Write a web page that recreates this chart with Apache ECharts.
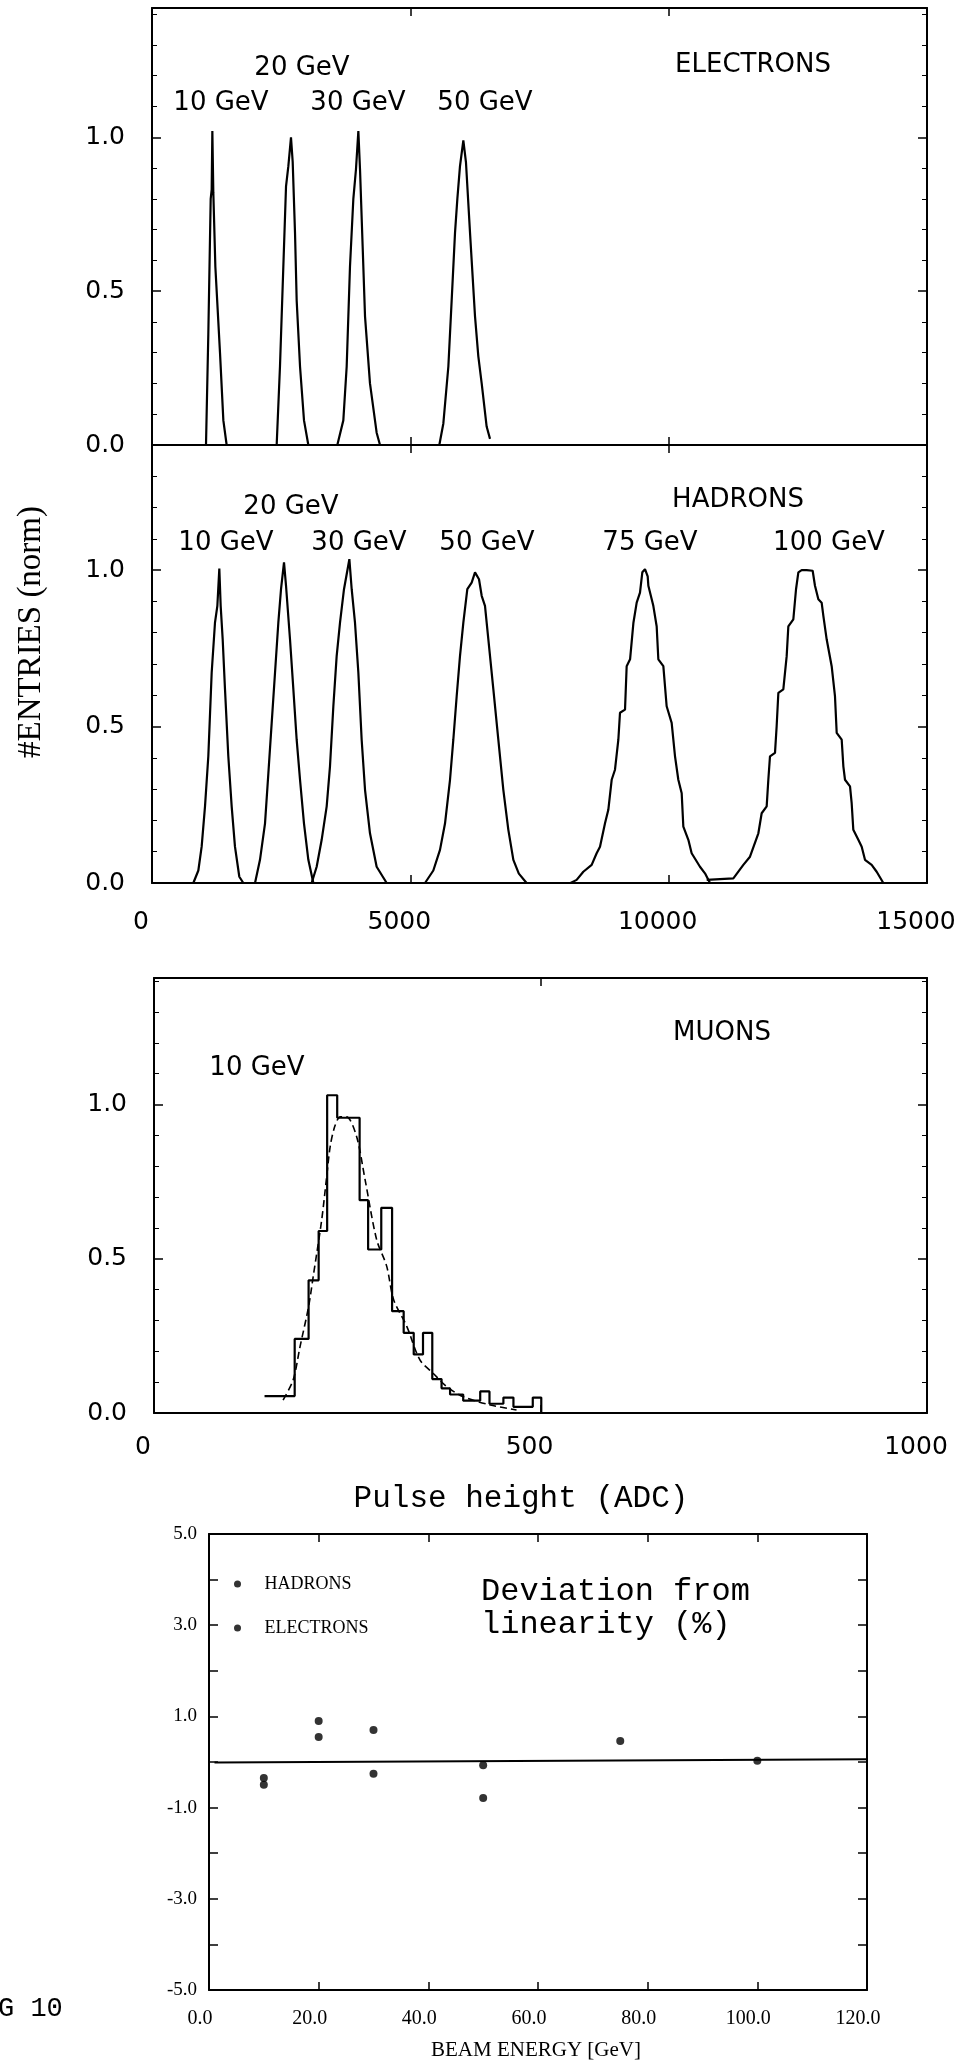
<!DOCTYPE html>
<html><head><meta charset="utf-8">
<script src="https://cdn.jsdelivr.net/npm/echarts@6/dist/echarts.min.js"></script>
<style>html,body{margin:0;padding:0;background:#fff}#c{width:966px;height:2066px}</style>
</head><body><div id="c"></div>
<script>
// ---------------- DATA ----------------
// Electrons: pulse height (ADC) vs normalised entries
const electron10GeV = [[1045,0],[1090,0.36],[1136,0.80],[1155,0.83],[1168,1.02],[1187,0.82],[1226,0.58],[1316,0.30],[1381,0.08],[1445,0]];
const electron20GeV = [[2413,0],[2477,0.255],[2542,0.58],[2594,0.84],[2639,0.906],[2690,1.0],[2723,0.92],[2768,0.69],[2800,0.47],[2865,0.255],[2942,0.08],[3026,0]];
const electron30GeV = [[3587,0],[3703,0.08],[3768,0.255],[3832,0.58],[3897,0.80],[3948,0.896],[3994,1.02],[4026,0.896],[4077,0.646],[4123,0.418],[4219,0.20],[4348,0.04],[4413,0]];
const electron50GeV = [[5561,0],[5639,0.07],[5736,0.255],[5800,0.47],[5865,0.69],[5910,0.80],[5961,0.906],[6026,0.99],[6077,0.918],[6155,0.69],[6252,0.418],[6316,0.288],[6381,0.20],[6477,0.06],[6542,0.02]];

// Hadrons
const hadron10GeV = [[800,0],[897,0.04],[961,0.116],[1026,0.245],[1090,0.405],[1155,0.672],[1219,0.832],[1265,0.886],[1303,1.005],[1329,0.886],[1368,0.779],[1413,0.619],[1477,0.405],[1542,0.245],[1606,0.116],[1690,0.02],[1768,0]];
const hadron20GeV = [[1994,0],[2090,0.074],[2187,0.19],[2252,0.35],[2316,0.51],[2381,0.672],[2445,0.832],[2497,0.939],[2555,1.025],[2594,0.95],[2671,0.779],[2736,0.619],[2800,0.458],[2865,0.33],[2942,0.19],[3026,0.074],[3123,0]];
const hadron30GeV = [[3090,0],[3187,0.052],[3284,0.138],[3381,0.245],[3445,0.373],[3510,0.565],[3574,0.725],[3639,0.832],[3716,0.939],[3820,1.035],[3865,0.939],[3929,0.832],[3994,0.672],[4058,0.458],[4123,0.298],[4219,0.159],[4348,0.052],[4542,0]];
const hadron50GeV = [[5284,0],[5445,0.04],[5574,0.106],[5671,0.19],[5768,0.33],[5832,0.458],[5897,0.597],[5961,0.725],[6026,0.832],[6103,0.939],[6187,0.96],[6252,0.993],[6329,0.971],[6381,0.918],[6445,0.886],[6510,0.779],[6607,0.619],[6703,0.458],[6800,0.298],[6897,0.17],[6994,0.074],[7100,0.03],[7250,0]];
const hadron75GeV = [[8100,0],[8219,0.01],[8348,0.036],[8510,0.058],[8606,0.095],[8671,0.116],[8768,0.191],[8832,0.234],[8897,0.33],[8961,0.362],[9026,0.458],[9058,0.544],[9155,0.554],[9187,0.693],[9253,0.715],[9318,0.832],[9381,0.896],[9445,0.928],[9490,0.993],[9542,1.003],[9594,0.98],[9607,0.95],[9703,0.886],[9768,0.82],[9800,0.715],[9897,0.693],[9961,0.565],[10058,0.512],[10123,0.405],[10187,0.33],[10252,0.287],[10284,0.18],[10381,0.138],[10445,0.095],[10606,0.052],[10703,0.031],[10800,0]];
const hadron100GeV = [[10736,0.01],[11252,0.015],[11445,0.058],[11574,0.084],[11736,0.159],[11800,0.223],[11897,0.245],[11929,0.33],[11961,0.405],[12058,0.416],[12090,0.501],[12123,0.608],[12219,0.619],[12284,0.725],[12316,0.82],[12413,0.843],[12465,0.939],[12510,0.993],[12574,1.0],[12671,1.0],[12787,0.998],[12832,0.95],[12897,0.907],[12961,0.896],[12994,0.854],[13058,0.779],[13155,0.693],[13219,0.597],[13252,0.48],[13349,0.458],[13381,0.373],[13413,0.33],[13510,0.309],[13542,0.255],[13574,0.17],[13671,0.138],[13736,0.116],[13800,0.074],[13929,0.058],[14026,0.036],[14155,0]];

// Muons 10 GeV: histogram bins and fitted curve
const muonBinEdges = [143,182,200,213,224,237,266,277,294,308,323,336,348,360,372,383,400,422,434,452,465,490,501];
const muonBinValues = [0.055,0.24,0.43,0.59,1.03,0.957,0.69,0.53,0.665,0.33,0.26,0.19,0.26,0.11,0.08,0.06,0.04,0.07,0.03,0.05,0.02,0.05];
const muonFit = [[167,0.042],[180,0.107],[189,0.216],[200,0.345],[206,0.443],[217,0.627],[223,0.757],[228,0.865],[234,0.93],[241,0.96],[249,0.96],[262,0.897],[273,0.757],[288,0.562],[301,0.476],[310,0.367],[327,0.281],[344,0.172],[361,0.129],[379,0.085],[400,0.053],[435,0.026],[469,0.01]];

// Deviation from linearity (%)
const hadronEnergies = [10,20,30,50,75,100];
const hadronDeviation = [-0.50,0.90,0.70,-0.79,0.46,0.03];
const electronEnergies = [10,20,30,50];
const electronDeviation = [-0.35,0.55,-0.26,-0.07];
const linearityLine = [[1,-0.01],[120,0.06]];

// Axis ranges / tick settings
const pulseRange = [0,15000,5000];
const muonRange = [0,1000,500];
const energyRange = [0,120,20];
const entriesMax = [1.42,1.40,1.41];
const deviationRange = [-5,5,1];

// Text labels
const electronLabels = ['10 GeV','20 GeV','30 GeV','50 GeV'];
const hadronLabels = ['10 GeV','20 GeV','30 GeV','50 GeV','75 GeV','100 GeV'];
const legendNames = ['HADRONS','ELECTRONS'];

// ---------------- CHART ----------------
const chart = echarts.init(document.getElementById('c'), null, {renderer:'canvas'});
const BLACK = '#000';
const sans = 'DejaVu Sans';
const serif = 'Liberation Serif';

function xAxis(grid, pos, range, label) {
  return {
    type:'value', gridIndex:grid, position:pos, min:range[0], max:range[1], interval:range[2],
    axisLine:{show:true, onZero:false, lineStyle:{color:BLACK, width:2}},
    axisTick:{show:true, inside:true, length:8, lineStyle:{color:BLACK, width:1.5}},
    splitLine:{show:false},
    axisLabel: label ? label : {show:false}
  };
}
function yAxis(grid, pos, min, max, interval, label, minorSplit) {
  return {
    type:'value', gridIndex:grid, position:pos, min:min, max:max, interval:interval,
    axisLine:{show:true, onZero:false, lineStyle:{color:BLACK, width:2}},
    axisTick:{show:true, inside:true, length:9, lineStyle:{color:BLACK, width:1.5}},
    minorTick: minorSplit ? {show:true, splitNumber:minorSplit, length:5, lineStyle:{color:BLACK, width:1}} : {show:false},
    splitLine:{show:false}, minorSplitLine:{show:false},
    axisLabel: label ? label : {show:false}
  };
}
const entryLabel = {show:true, color:BLACK, fontFamily:sans, fontSize:25, margin:27,
  formatter: v => (Math.abs(v*2 - Math.round(v*2)) < 1e-6) ? v.toFixed(1) : ''};
const plainNum = v => String(Math.round(v));

function lineSeries(name, data, xi, yi, extra) {
  return Object.assign({
    type:'line', name:name, data:data, xAxisIndex:xi, yAxisIndex:yi,
    showSymbol:false, symbol:'none', silent:true, animation:false,
    lineStyle:{color:BLACK, width:2.2}, z:3
  }, extra || {});
}

// build step points for the muon histogram from bins
const muonHist = [];
for (let i = 0; i < muonBinValues.length; i++) muonHist.push([muonBinEdges[i], muonBinValues[i]]);
muonHist.push([muonBinEdges[muonBinEdges.length-1], 0]);

const hadronDevData = hadronEnergies.map((e,i)=>[e, hadronDeviation[i]]);
const electronDevData = electronEnergies.map((e,i)=>[e, electronDeviation[i]]);

function txt(text, x, y, font, align, extra) {
  return Object.assign({type:'text', x:x, y:y, silent:true,
    style:{text:text, font:font, fill:BLACK, textAlign:align||'center', textVerticalAlign:'middle'}}, extra||{});
}
const labFont = '26px "DejaVu Sans"';
const graphics = [
  txt(electronLabels[1], 302, 68, labFont),
  txt(electronLabels[0], 221, 103, labFont),
  txt(electronLabels[2], 358, 103, labFont),
  txt(electronLabels[3], 485, 103, labFont),
  txt('ELECTRONS', 753, 65, labFont),
  txt(hadronLabels[1], 291, 507, labFont),
  txt(hadronLabels[0], 226, 543, labFont),
  txt(hadronLabels[2], 359, 543, labFont),
  txt(hadronLabels[3], 487, 543, labFont),
  txt(hadronLabels[4], 650, 543, labFont),
  txt(hadronLabels[5], 829, 543, labFont),
  txt('HADRONS', 738, 500, labFont),
  txt('MUONS', 722, 1033, labFont),
  txt('10 GeV', 257, 1068, labFont),
  txt('#ENTRIES (norm)', 31, 632, '33px "Liberation Serif"', 'center', {rotation:Math.PI/2}),
  txt('Pulse height (ADC)', 521, 1499, '31px "Liberation Mono"'),
  txt('Deviation from', 481, 1592, '32px "Liberation Mono"', 'left'),
  txt('linearity (%)', 481, 1625, '32px "Liberation Mono"', 'left'),
  txt('BEAM ENERGY [GeV]', 536, 2050, '21px "Liberation Serif"'),
  txt('G 10', -2, 2009, '27px "Liberation Mono"', 'left')
];

const option = {
  backgroundColor:'#fff',
  animation:false,
  graphic: graphics,
  legend: {
    data: legendNames, orient:'vertical', left:229, top:1570,
    icon:'circle', itemWidth:44, itemHeight:7, itemGap:26,
    textStyle:{color:BLACK, fontFamily:serif, fontSize:18, lineHeight:18},
    selectedMode:false
  },
  grid: [
    {left:152, top:8, width:775, height:437},
    {left:152, top:445, width:775, height:438},
    {left:154, top:978, width:773, height:435},
    {left:209, top:1534, width:658, height:456}
  ],
  xAxis: [
    xAxis(0,'bottom',pulseRange,null),
    xAxis(0,'top',pulseRange,null),
    xAxis(1,'bottom',pulseRange,{show:true,color:BLACK,fontFamily:sans,fontSize:25,margin:27,padding:[0,22,0,0],formatter:plainNum}),
    xAxis(1,'top',pulseRange,null),
    xAxis(2,'bottom',muonRange,{show:true,color:BLACK,fontFamily:sans,fontSize:25,margin:22,padding:[0,22,0,0],formatter:plainNum}),
    xAxis(2,'top',muonRange,null),
    xAxis(3,'bottom',energyRange,{show:true,color:BLACK,fontFamily:serif,fontSize:20,margin:19,padding:[0,18,0,0],formatter:v=>v.toFixed(1)}),
    xAxis(3,'top',energyRange,null)
  ],
  yAxis: [
    yAxis(0,'left',0,entriesMax[0],0.5,entryLabel,5),
    yAxis(0,'right',0,entriesMax[0],0.5,null,5),
    yAxis(1,'left',0,entriesMax[1],0.5,entryLabel,5),
    yAxis(1,'right',0,entriesMax[1],0.5,null,5),
    yAxis(2,'left',0,entriesMax[2],0.5,entryLabel,5),
    yAxis(2,'right',0,entriesMax[2],0.5,null,5),
    yAxis(3,'left',deviationRange[0],deviationRange[1],deviationRange[2],
      {show:true,color:BLACK,fontFamily:serif,fontSize:19,margin:12,
       formatter:v=>(Math.round(v)%2!==0)?v.toFixed(1):''},0),
    yAxis(3,'right',deviationRange[0],deviationRange[1],deviationRange[2],null,0)
  ],
  series: [
    lineSeries('e10', electron10GeV, 0, 0),
    lineSeries('e20', electron20GeV, 0, 0),
    lineSeries('e30', electron30GeV, 0, 0),
    lineSeries('e50', electron50GeV, 0, 0),
    lineSeries('h10', hadron10GeV, 2, 2),
    lineSeries('h20', hadron20GeV, 2, 2),
    lineSeries('h30', hadron30GeV, 2, 2),
    lineSeries('h50', hadron50GeV, 2, 2),
    lineSeries('h75', hadron75GeV, 2, 2),
    lineSeries('h100', hadron100GeV, 2, 2),
    lineSeries('muonHist', muonHist, 4, 4, {step:'end'}),
    lineSeries('muonFit', muonFit, 4, 4, {smooth:0.3, lineStyle:{color:BLACK, width:1.6, type:[7,4]}}),
    lineSeries('linearity', linearityLine, 6, 6, {lineStyle:{color:BLACK, width:2}}),
    {type:'scatter', name:'HADRONS', data:hadronDevData, xAxisIndex:6, yAxisIndex:6,
     symbol:'circle', symbolSize:8, itemStyle:{color:BLACK}, silent:true, z:4},
    {type:'scatter', name:'ELECTRONS', data:electronDevData, xAxisIndex:6, yAxisIndex:6,
     symbol:'circle', symbolSize:8, itemStyle:{color:BLACK}, silent:true, z:4}
  ]
};
chart.setOption(option);
</script></body></html>
